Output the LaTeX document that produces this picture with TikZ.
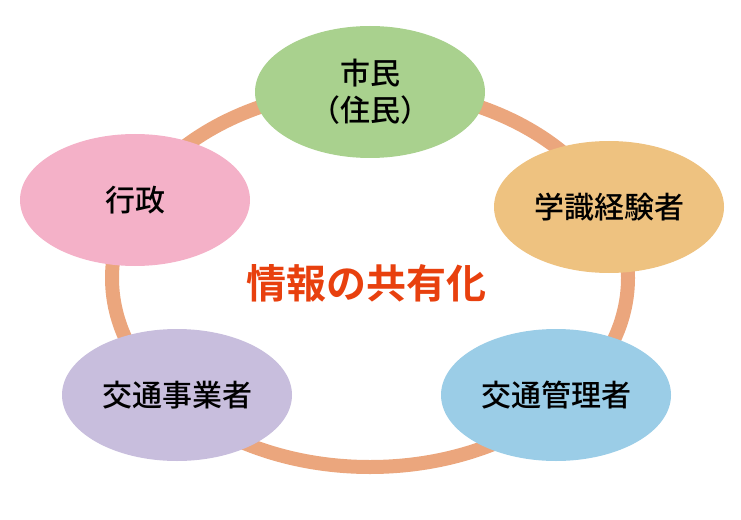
\documentclass[tikz,border=0pt]{standalone}
\usepackage{fontspec}
\newfontfamily\cjk{Noto Sans CJK JP Medium}
\newfontfamily\cjkbold{Noto Sans CJK JP Bold}
\usetikzlibrary{shapes.geometric}
\definecolor{ringc}{HTML}{EBA67D}
\definecolor{greenc}{HTML}{A9D18E}
\definecolor{orangec}{HTML}{EEC280}
\definecolor{bluec}{HTML}{9BCDE7}
\definecolor{purplec}{HTML}{C8BEDD}
\definecolor{pinkc}{HTML}{F4B1C8}
\definecolor{titlec}{HTML}{E8400E}
\tikzset{
  party/.style={ellipse, inner sep=0pt, minimum width=172.5pt, minimum height=99pt,
    font=\cjk\fontsize{22.5pt}{28pt}\selectfont, text=black, align=center},
  ringstyle/.style={ellipse, draw=ringc, line width=10.5pt, inner sep=0pt,
    minimum width=387pt, minimum height=283.5pt}
}
\begin{document}
\begin{tikzpicture}[x=0.75pt,y=-0.75pt]
\useasboundingbox (0,0) rectangle (741,520);
\node[ringstyle] (ring) at (370,278) {};
\node[party, fill=greenc] (shimin) at (370,92) {市民\\（住民）};
\node[party, fill=orangec] (gakushiki) at (609,207) {学識経験者};
\node[party, fill=bluec] (kanri) at (556,395) {交通管理者};
\node[party, fill=purplec] (jigyo) at (177,395) {交通事業者};
\node[party, fill=pinkc] (gyosei) at (135,200) {行政};
\node[font=\cjkbold\fontsize{30pt}{36pt}\selectfont, text=titlec] (title) at (366,283) {情報の共有化};
\end{tikzpicture}
\end{document}
